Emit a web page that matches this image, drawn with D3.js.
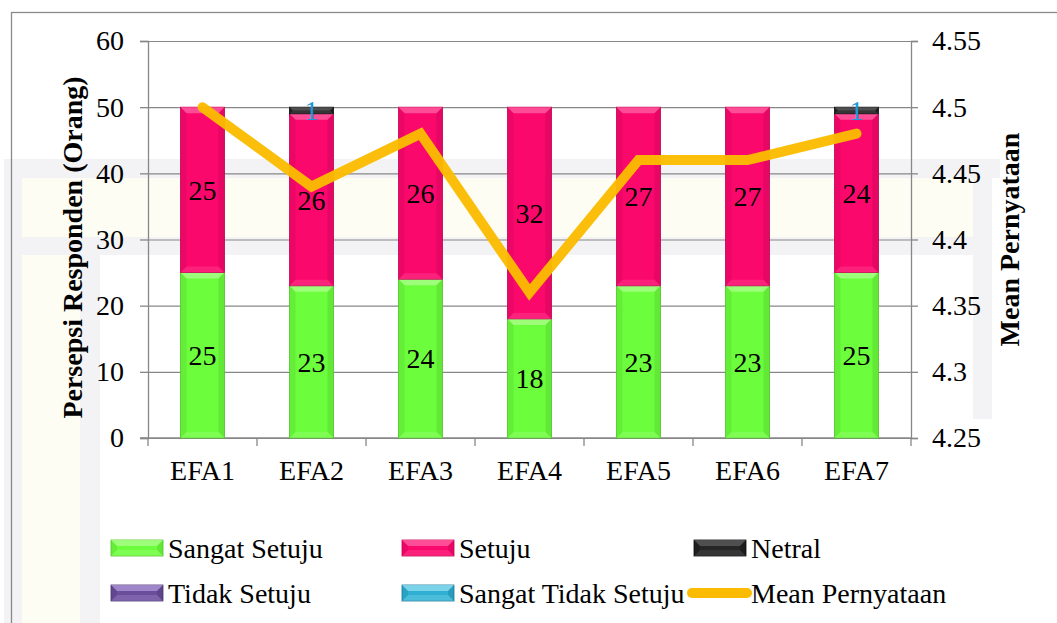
<!DOCTYPE html>
<html>
<head>
<meta charset="utf-8">
<script src="https://cdn.jsdelivr.net/npm/d3@7"></script>
<style>
  html, body { margin: 0; padding: 0; background: #ffffff; }
  svg { display: block; }
</style>
</head>
<body>
<svg id="chart" width="1057" height="623"></svg>
<script>
// Categories and series (number of respondents per answer)
const categories = ["EFA1", "EFA2", "EFA3", "EFA4", "EFA5", "EFA6", "EFA7"];
const sangatSetuju = [25, 23, 24, 18, 23, 23, 25];
const setuju = [25, 26, 26, 32, 27, 27, 24];
const netral = [0, 1, 0, 0, 0, 0, 1];
const tidakSetuju = [0, 0, 0, 0, 0, 0, 0];
const sangatTidakSetuju = [0, 0, 0, 0, 0, 0, 0];
const meanPernyataan = [4.5, 4.44, 4.48, 4.36, 4.46, 4.46, 4.48];

// Axis tick values
const leftTicks = [0, 10, 20, 30, 40, 50, 60];
const rightTicks = [4.25, 4.3, 4.35, 4.4, 4.45, 4.5, 4.55];

const seriesNames = ["Sangat Setuju", "Setuju", "Netral", "Tidak Setuju", "Sangat Tidak Setuju"];
const seriesValues = [sangatSetuju, setuju, netral, tidakSetuju, sangatTidakSetuju];
const lineName = "Mean Pernyataan";

const FONT = "'Liberation Serif', 'Times New Roman', Tinos, 'Noto Serif', 'DejaVu Serif', serif";
const FS = 28;

const palette = {
  "Sangat Setuju":       { base: "#6cfd3c", light: "#aaff88", dark: "#4fc428", label: "#000" },
  "Setuju":              { base: "#fb086d", light: "#ff5fa0", dark: "#c00452", label: "#000" },
  "Netral":              { base: "#262626", light: "#5a5a5a", dark: "#0c0c0c", label: "#1a9ad6" },
  "Tidak Setuju":        { base: "#6a4d9b", light: "#ac94d4", dark: "#48336e", label: "#000" },
  "Sangat Tidak Setuju": { base: "#2fb0d3", light: "#8edcf0", dark: "#1d7893", label: "#000" }
};
const lineColor = "#fbbb00";

const svg = d3.select("#chart").style("font-family", FONT);
const W = 1057, H = 623;
const plot = { left: 148, right: 911, top: 41, bottom: 438 };

function styleText(sel, size, weight) {
  return sel.style("font-family", FONT)
    .style("font-size", size + "px")
    .style("font-weight", weight || "normal")
    .style("fill", "#000");
}

// Faint background emblem
const wm = svg.append("g").attr("class", "backdrop");
const wmGrey = "#f3f3f6", wmCream = "#fefdf4";
[
  [4, 159, 996, 19, wmGrey],
  [22, 178, 951, 59, wmCream],
  [4, 178, 18, 445, wmGrey],
  [22, 237, 58, 386, wmCream],
  [80, 237, 20, 386, wmGrey],
  [22, 237, 951, 18, wmGrey],
  [973, 159, 19, 260, wmGrey]
].forEach(r => wm.append("rect")
  .attr("x", r[0]).attr("y", r[1]).attr("width", r[2]).attr("height", r[3]).attr("fill", r[4]));

// Outer frame
svg.append("rect")
  .attr("x", 11.5).attr("y", 12.5).attr("width", W).attr("height", H)
  .attr("fill", "none").attr("stroke", "#8a8a8a").attr("stroke-width", 1.3);

// Scales
const x = d3.scaleBand().domain(categories).range([plot.left, plot.right]).paddingInner(0).paddingOuter(0);
const yL = d3.scaleLinear().domain([0, 60]).range([plot.bottom, plot.top]);
const yR = d3.scaleLinear().domain([4.25, 4.55]).range([plot.bottom, plot.top]);
const barW = 44;
const bx = c => x(c) + (x.bandwidth() - barW) / 2;

const axisColor = "#878787";

// Horizontal gridlines
svg.append("g")
  .attr("transform", `translate(${plot.left},0)`)
  .call(d3.axisLeft(yL).tickValues(leftTicks).tickSize(-(plot.right - plot.left)).tickFormat(""))
  .call(g => g.select(".domain").remove())
  .call(g => g.selectAll("line").attr("stroke", axisColor).attr("stroke-width", 1.2));

// Left axis
svg.append("g")
  .attr("transform", `translate(${plot.left},0)`)
  .call(d3.axisLeft(yL).tickValues(leftTicks).tickSize(8).tickPadding(16).tickFormat(d3.format("d")))
  .attr("font-family", null).attr("font-size", null)
  .call(g => g.select(".domain").attr("stroke", axisColor).attr("stroke-width", 1.3))
  .call(g => g.selectAll("line").attr("stroke", axisColor).attr("stroke-width", 1.3))
  .call(g => styleText(g.selectAll("text"), FS));

// Right axis
svg.append("g")
  .attr("transform", `translate(${plot.right},0)`)
  .call(d3.axisRight(yR).tickValues(rightTicks).tickSize(7).tickPadding(14).tickFormat(d3.format("~g")))
  .attr("font-family", null).attr("font-size", null)
  .call(g => g.select(".domain").attr("stroke", axisColor).attr("stroke-width", 1.3))
  .call(g => g.selectAll("line").attr("stroke", axisColor).attr("stroke-width", 1.3))
  .call(g => styleText(g.selectAll("text"), FS));

// Bottom axis: ticks at band boundaries
const bottom = svg.append("g").attr("transform", `translate(0,${plot.bottom})`);
bottom.append("line")
  .attr("x1", plot.left - 8).attr("x2", plot.right).attr("y1", 0).attr("y2", 0)
  .attr("stroke", axisColor).attr("stroke-width", 1.3);
const boundaries = categories.map(c => x(c)).concat([plot.right]);
bottom.selectAll("line.tick").data(boundaries).join("line")
  .attr("class", "tick")
  .attr("x1", d => d).attr("x2", d => d).attr("y1", 0).attr("y2", 8)
  .attr("stroke", axisColor).attr("stroke-width", 1.3);
styleText(bottom.selectAll("text").data(categories).join("text")
  .attr("x", d => x(d) + x.bandwidth() / 2)
  .attr("y", 42)
  .attr("text-anchor", "middle")
  .text(d => d), FS);

// Axis titles
styleText(svg.append("text")
  .attr("transform", `translate(82,${(plot.top + plot.bottom) / 2 + 8}) rotate(-90)`)
  .attr("text-anchor", "middle")
  .text("Persepsi Responden (Orang)"), FS, "bold");
styleText(svg.append("text")
  .attr("transform", `translate(1019,${(plot.top + plot.bottom) / 2}) rotate(-90)`)
  .attr("text-anchor", "middle")
  .text(lineName), FS, "bold");

// Bevelled block, used for bars and legend swatches
function bevelBlock(g, x0, y0, w, h, col) {
  const b = Math.min(6, h / 2, w / 2);
  g.append("rect").attr("x", x0).attr("y", y0).attr("width", w).attr("height", h)
    .attr("fill", col.base).attr("stroke", col.dark).attr("stroke-width", 0.8);
  // top face (lighter)
  g.append("polygon")
    .attr("points", [[x0, y0], [x0 + w, y0], [x0 + w - b, y0 + b], [x0 + b, y0 + b]].join(" "))
    .attr("fill", col.light).attr("opacity", 0.8);
  // bottom face (slightly lighter)
  g.append("polygon")
    .attr("points", [[x0, y0 + h], [x0 + w, y0 + h], [x0 + w - b, y0 + h - b], [x0 + b, y0 + h - b]].join(" "))
    .attr("fill", col.light).attr("opacity", 0.3);
  // side faces (darker)
  g.append("polygon")
    .attr("points", [[x0, y0], [x0 + b, y0 + b], [x0 + b, y0 + h - b], [x0, y0 + h]].join(" "))
    .attr("fill", col.dark).attr("opacity", 0.25);
  g.append("polygon")
    .attr("points", [[x0 + w, y0], [x0 + w - b, y0 + b], [x0 + w - b, y0 + h - b], [x0 + w, y0 + h]].join(" "))
    .attr("fill", col.dark).attr("opacity", 0.35);
}

// Stacked bars
const stackRows = categories.map((c, i) => {
  const row = { category: c };
  seriesNames.forEach((s, k) => { row[s] = seriesValues[k][i]; });
  return row;
});
const stacked = d3.stack().keys(seriesNames)(stackRows);
const barsG = svg.append("g").attr("class", "bars");
stacked.forEach(layer => {
  const col = palette[layer.key];
  layer.forEach(seg => {
    const v = seg[1] - seg[0];
    if (v <= 0) return;
    const c = seg.data.category;
    const y0 = yL(seg[1]), h = yL(seg[0]) - yL(seg[1]);
    bevelBlock(barsG, bx(c), y0, barW, h, col);
  });
});

// Mean line on right axis
const line = d3.line()
  .x((d, i) => x(categories[i]) + x.bandwidth() / 2)
  .y(d => yR(d));
svg.append("path")
  .datum(meanPernyataan)
  .attr("d", line)
  .attr("fill", "none")
  .attr("stroke", lineColor)
  .attr("stroke-opacity", 0.96)
  .attr("stroke-width", 10)
  .attr("stroke-linecap", "round")
  .attr("stroke-linejoin", "miter");

// Value labels inside segments
const labelsG = svg.append("g").attr("class", "labels");
stacked.forEach(layer => {
  const col = palette[layer.key];
  layer.forEach(seg => {
    const v = seg[1] - seg[0];
    if (v <= 0) return;
    const c = seg.data.category;
    styleText(labelsG.append("text")
      .attr("x", x(c) + x.bandwidth() / 2)
      .attr("y", yL((seg[0] + seg[1]) / 2))
      .attr("dy", "0.35em")
      .attr("text-anchor", "middle")
      .text(v), FS)
      .style("fill", col.label);
  });
});

// Legend
const legendItems = [
  { name: "Sangat Setuju", x: 111, y: 548 },
  { name: "Setuju", x: 402, y: 548 },
  { name: "Netral", x: 694, y: 548 },
  { name: "Tidak Setuju", x: 111, y: 593 },
  { name: "Sangat Tidak Setuju", x: 402, y: 593 },
  { name: lineName, x: 692, y: 593, line: true }
];
const legend = svg.append("g").attr("class", "legend");
legendItems.forEach(it => {
  const g = legend.append("g");
  if (it.line) {
    g.append("line")
      .attr("x1", it.x).attr("x2", it.x + 55).attr("y1", it.y).attr("y2", it.y)
      .attr("stroke", lineColor).attr("stroke-width", 10).attr("stroke-linecap", "round");
    styleText(g.append("text").attr("x", it.x + 59).attr("y", it.y).attr("dy", "0.35em")
      .text(it.name), FS);
  } else {
    bevelBlock(g, it.x, it.y - 8, 52, 16, palette[it.name]);
    styleText(g.append("text").attr("x", it.x + 57).attr("y", it.y).attr("dy", "0.35em")
      .text(it.name), FS);
  }
});
</script>
</body>
</html>
